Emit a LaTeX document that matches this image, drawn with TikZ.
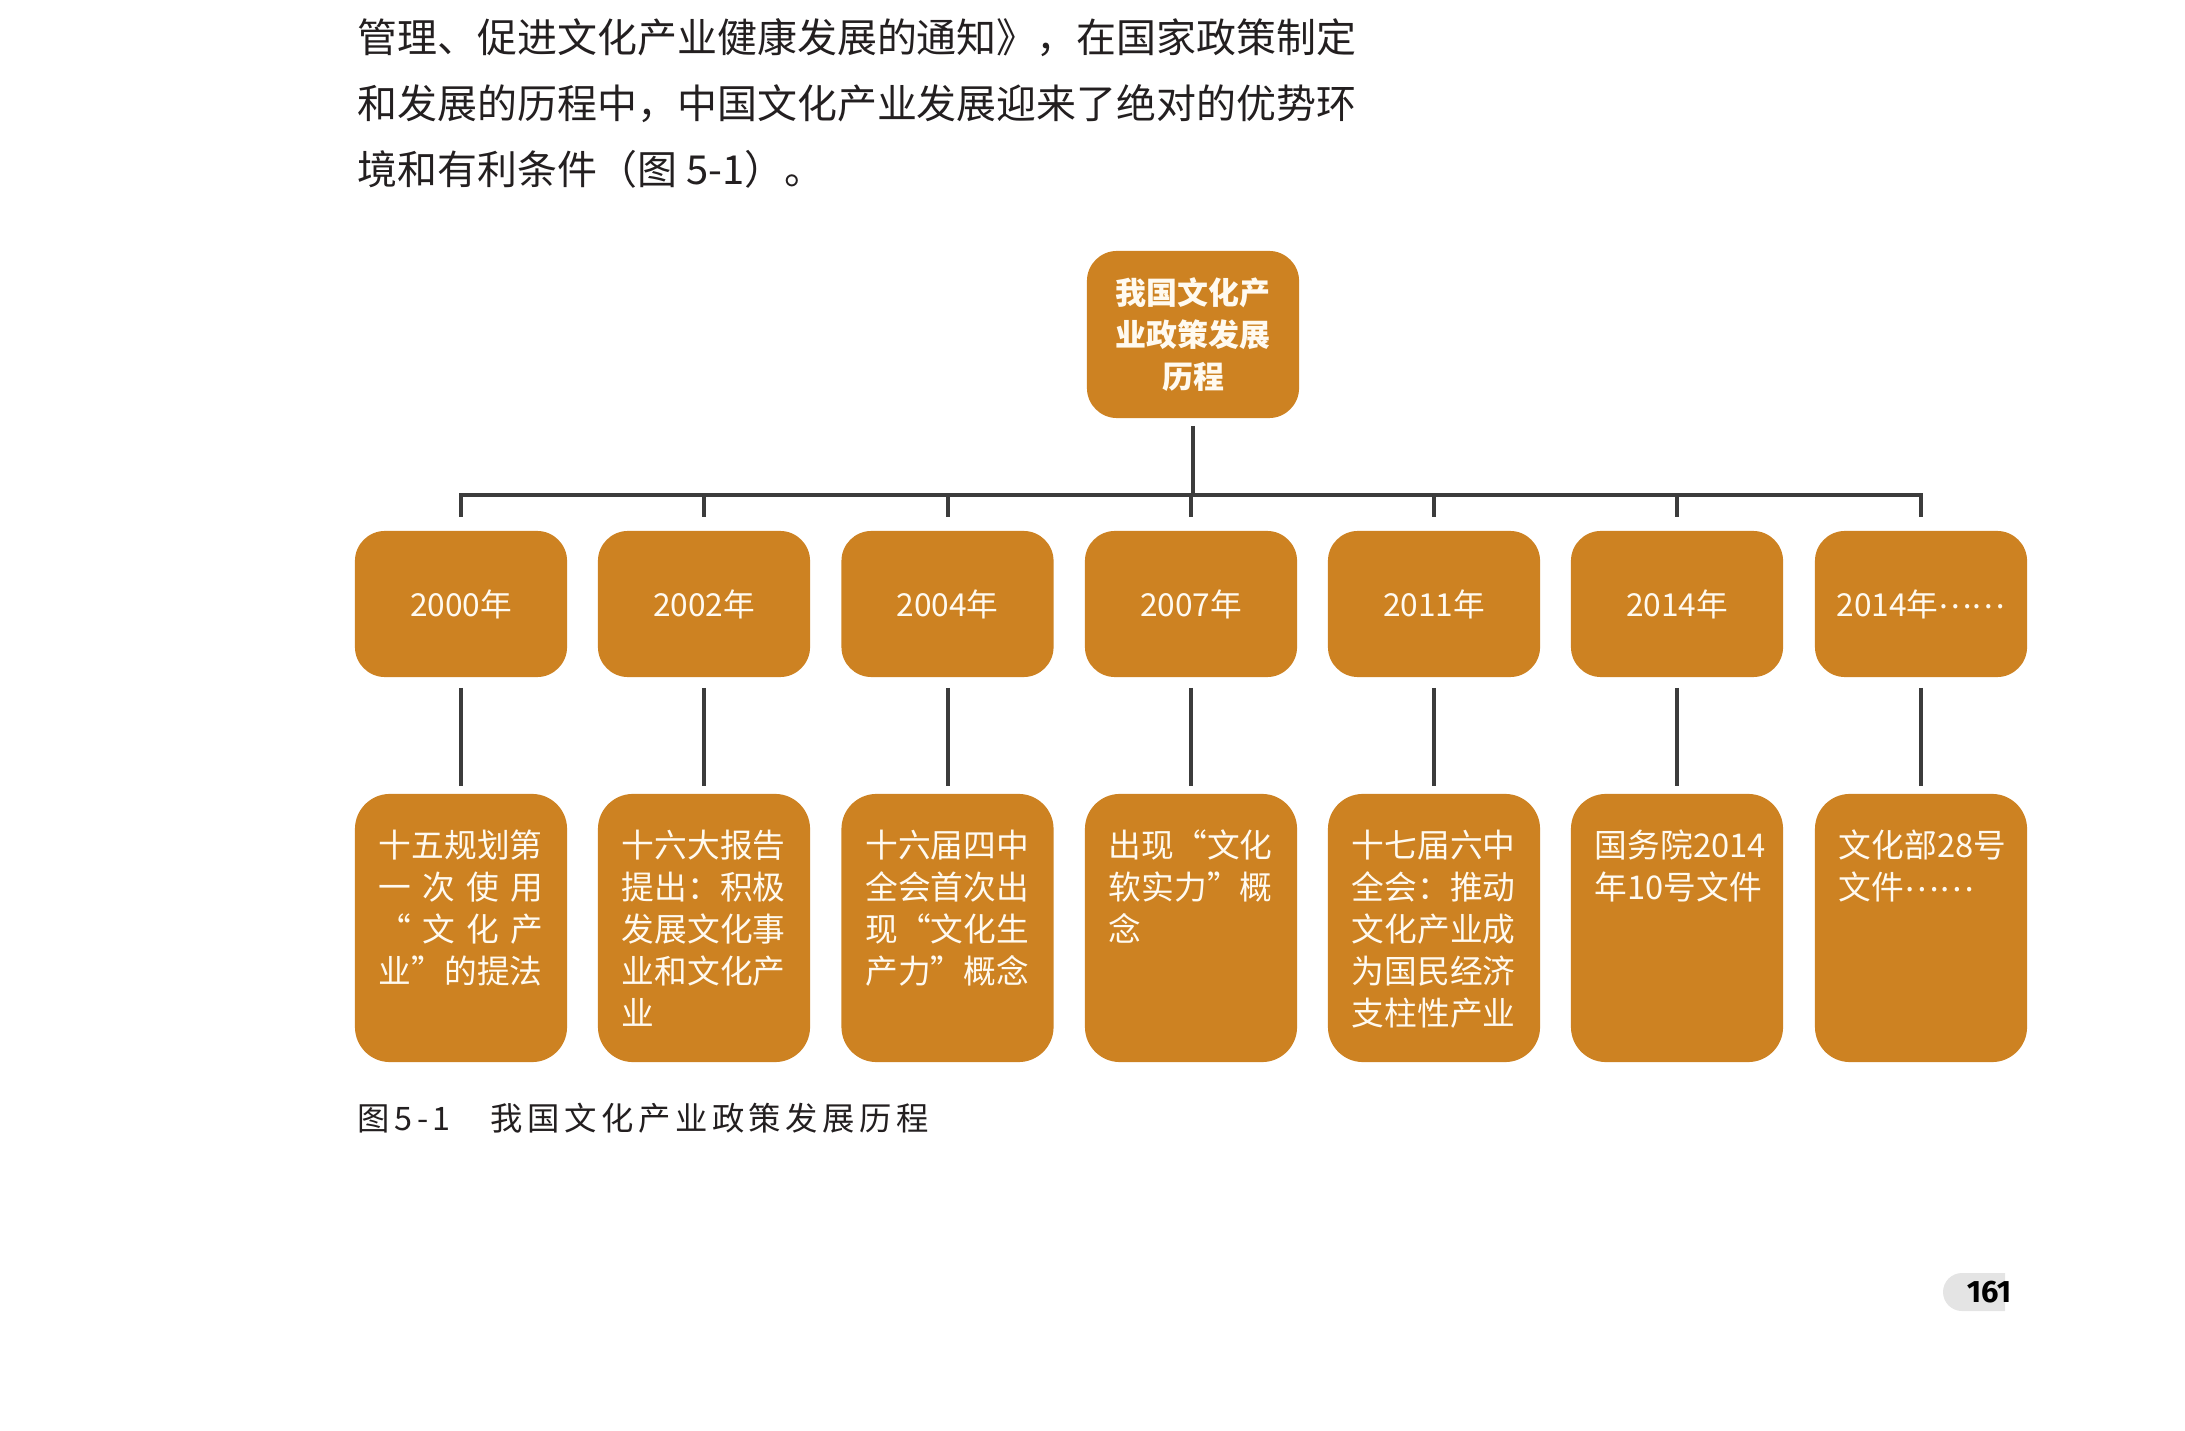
\documentclass[tikz,border=0pt]{standalone}
\usepackage{fontspec}
\setmainfont{Noto Sans CJK SC}
\newfontfamily\capfont{Noto Sans CJK SC}[LetterSpace=14]
\newfontfamily\pagefont{Fira Sans}
\usepackage{xcolor}
\usepackage{tikz}
\usetikzlibrary{positioning}
\definecolor{PolicyOrange}{RGB}{205,130,34}
\definecolor{LinkGrey}{RGB}{60,60,60}
\definecolor{BodyInk}{RGB}{35,31,32}
\definecolor{TabGrey}{RGB}{228,228,228}
\definecolor{BoxInk}{RGB}{255,250,240}

\tikzset{
  rootbox/.style={fill=PolicyOrange, rounded corners=0.3cm, minimum width=2.12cm, minimum height=1.67cm, inner sep=0pt, align=center, text=BoxInk, font=\fontsize{8.8pt}{11.95pt}\selectfont\bfseries},
  yearbox/.style={fill=PolicyOrange, rounded corners=0.3cm, minimum width=2.12cm, minimum height=1.46cm, inner sep=0pt, text=BoxInk, font=\fontsize{9pt}{11pt}\selectfont},
  detailbox/.style={fill=PolicyOrange, rounded corners=0.35cm, minimum width=2.12cm, minimum height=2.68cm, inner sep=0pt, text=BoxInk, font=\fontsize{9.3pt}{11.95pt}\selectfont},
  link/.style={draw=LinkGrey, line width=0.04cm},
}
\newcommand{\dtxt}[1]{\parbox[c][2.1cm][t]{1.64cm}{\vspace*{0.07cm}\raggedright #1}}
\newcommand{\moredots}{\raisebox{0.25em}{……}}

\begin{document}
\begin{tikzpicture}[x=0.01cm, y=-0.01cm]
    \useasboundingbox (0,0) rectangle (2185,1431);

    % Running text above the figure
    \node[anchor=north west, inner sep=0pt, align=left, text=BodyInk, font=\fontsize{11.36pt}{18.8pt}\selectfont] (intro) at (357,18)
        {管理、促进文化产业健康发展的通知》，在国家政策制定\\和发展的历程中，中国文化产业发展迎来了绝对的优势环\\境和有利条件（图 5-1）。};

    % Root
    \node[rootbox] (root) at (1193,334.5) {我国文化产\\业政策发展\\历程};

    % Year row
    \node[yearbox] (y1) at (461,604) {2000年};
    \node[yearbox] (y2) at (704,604) {2002年};
    \node[yearbox] (y3) at (947.5,604) {2004年};
    \node[yearbox] (y4) at (1191,604) {2007年};
    \node[yearbox] (y5) at (1434,604) {2011年};
    \node[yearbox] (y6) at (1677,604) {2014年};
    \node[yearbox] (y7) at (1921,604) {2014年\moredots};

    % Detail row
    \node[detailbox] (d1) at (y1 |- 0,928) {\dtxt{十五规划第\\一\hfill 次\hfill 使\hfill 用\\“\hfill 文\hfill 化\hfill 产\\业”的提法}};
    \node[detailbox] (d2) at (y2 |- 0,928) {\dtxt{十六大报告\\提出：积极\\发展文化事\\业和文化产\\业}};
    \node[detailbox] (d3) at (y3 |- 0,928) {\dtxt{十六届四中\\全会首次出\\现“文化生\\产力”概念}};
    \node[detailbox] (d4) at (y4 |- 0,928) {\dtxt{出现“文化\\软实力”概\\念}};
    \node[detailbox] (d5) at (y5 |- 0,928) {\dtxt{十七届六中\\全会：推动\\文化产业成\\为国民经济\\支柱性产业}};
    \node[detailbox] (d6) at (y6 |- 0,928) {\dtxt{国务院2014\\年10号文件}};
    \node[detailbox] (d7) at (y7 |- 0,928) {\dtxt{文化部28号\\文件\moredots}};

    % Connectors
    \coordinate (bus) at (root |- 0,495);
    \draw[link, shorten <=0.07cm] (root) -- (bus);
    \foreach \i in {1,...,7} {
        \draw[link, shorten >=0.13cm] (bus) -| (y\i);
        \draw[link, shorten <=0.1cm, shorten >=0.07cm] (y\i) -- (d\i);
    }

    % Caption
    \node[anchor=west, inner sep=0pt, text=BodyInk, font=\capfont\fontsize{9.2pt}{11pt}\selectfont] (caption) at (357,1118)
        {图5-1\hspace{0.4cm}我国文化产业政策发展历程};

    % Page tab
    \fill[TabGrey] (2005,1273) -- (1962,1273) arc[start angle=90, end angle=270, radius=0.19cm] -- (2005,1311) -- cycle;
    \node[inner sep=0pt, font=\pagefont\bfseries\fontsize{8.8pt}{10pt}\selectfont, text=black] (pagenum) at (1989,1292) {161};
\end{tikzpicture}
\end{document}
